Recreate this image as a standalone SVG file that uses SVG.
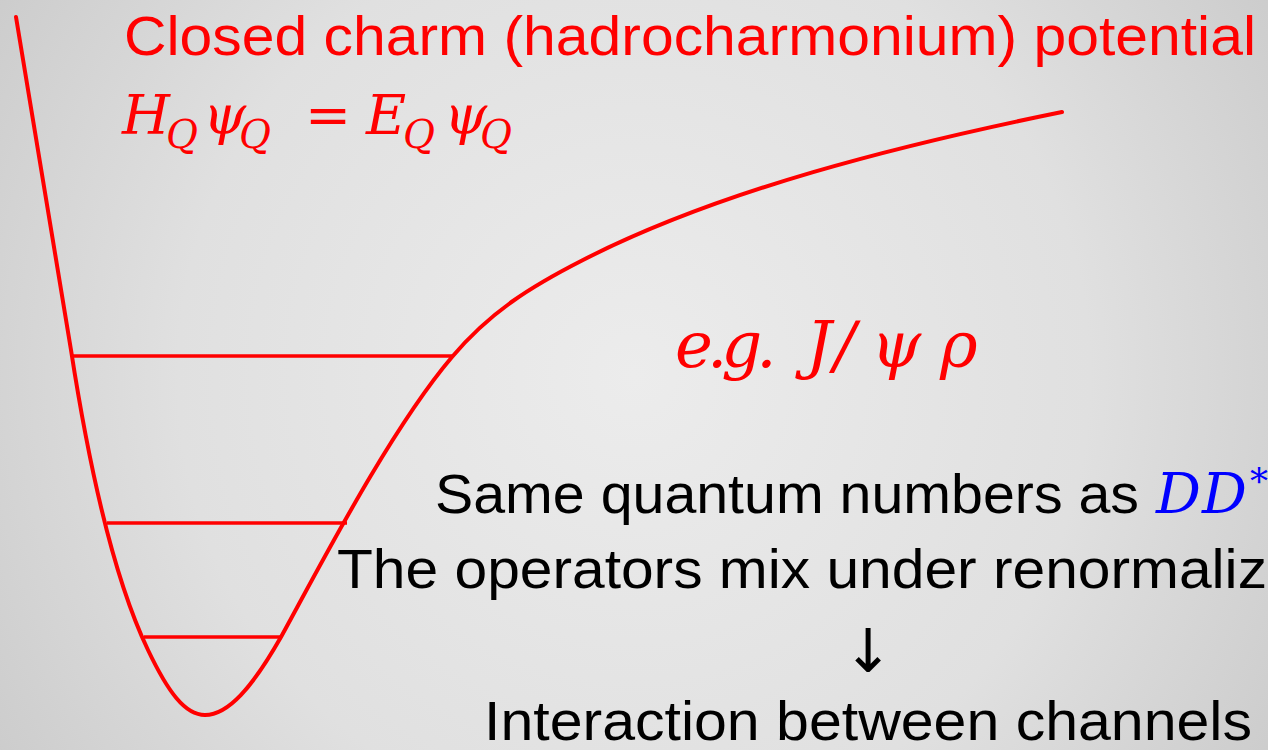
<svg xmlns="http://www.w3.org/2000/svg" width="1268" height="750" viewBox="0 0 1268 750">
<defs>
<radialGradient id="bg" cx="634" cy="375" r="760" gradientUnits="userSpaceOnUse">
<stop offset="0" stop-color="#ececec"/>
<stop offset="0.6" stop-color="#e0e0e0"/>
<stop offset="1" stop-color="#cbcbcb"/>
</radialGradient>
<style>
.curve{fill:none;stroke:#ff0000;stroke-width:4;stroke-linecap:round;stroke-linejoin:round}
.lvl{stroke:#ff0000;stroke-width:3.5}
.sans{font-family:"Liberation Sans",Arial,sans-serif;font-size:56px}
.math{font-family:"DejaVu Serif","Liberation Serif",serif;font-style:italic}
.red{fill:#ff0000}
.blk{fill:#000000}
.blue{fill:#0000ff}
.sub{font-size:39px}
</style>
</defs>
<rect width="1268" height="750" fill="url(#bg)"/>
<g id="potential">
<path class="curve" d="M16,17 L71,350 C88,460 112,575 148,650 C168,692 185,715 205,715 C228,715 252,688 281,637 C320,566 390,430 452,357 C490,312 530,287 583,260 C720,190 900,145 1062,112"/>
</g>
<g id="levels">
<line class="lvl" x1="72" y1="356" x2="453" y2="356"/>
<line class="lvl" x1="107" y1="523" x2="347" y2="523"/>
<line class="lvl" x1="144" y1="637" x2="282" y2="637"/>
</g>
<g id="title">
<text class="sans red" x="124" y="55" textLength="1132" lengthAdjust="spacingAndGlyphs">Closed charm (hadrocharmonium) potential</text>
</g>
<g id="equation">
<text class="math red" font-size="55"><tspan x="122" y="134">H</tspan><tspan class="sub" x="166" y="148">Q</tspan><tspan x="203" y="134">ψ</tspan><tspan class="sub" x="239" y="148">Q</tspan><tspan x="305" y="134" font-style="normal">=</tspan><tspan x="366" y="134">E</tspan><tspan class="sub" x="403" y="148">Q</tspan><tspan x="444" y="134">ψ</tspan><tspan class="sub" x="480" y="148">Q</tspan></text>
</g>
<g id="example">
<text class="math red" y="367" font-size="64"><tspan x="675" letter-spacing="-6">e.g.</tspan><tspan x="806">J</tspan><tspan x="834">/</tspan><tspan x="871">ψ</tspan><tspan x="940">ρ</tspan></text>
</g>
<g id="notes">
<text class="sans blk" x="435" y="513" textLength="704" lengthAdjust="spacingAndGlyphs">Same quantum numbers as</text>
<text class="math blue" x="1156" y="513" font-size="56">D<tspan x="1202">D</tspan><tspan x="1250" y="494" font-size="36">*</tspan></text>
<text class="sans blk" x="337" y="588" textLength="930" lengthAdjust="spacingAndGlyphs">The operators mix under renormaliz</text>
<text x="868" y="672" text-anchor="middle" font-size="60" font-family="DejaVu Sans, sans-serif" fill="#000">↓</text>
<text class="sans blk" x="484" y="740" textLength="768" lengthAdjust="spacingAndGlyphs">Interaction between channels</text>
</g>
</svg>
